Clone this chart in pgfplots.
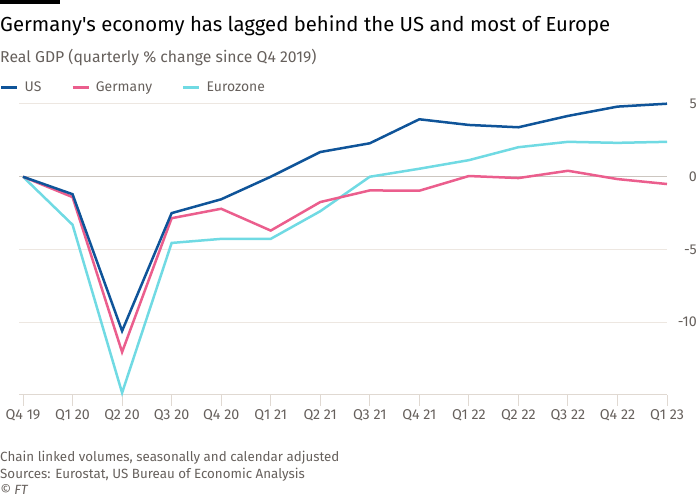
\documentclass[border=0pt]{standalone}
\usepackage{pgfplots}
\pgfplotsset{compat=1.18}
\usepackage{fontspec}
\setmainfont{Fira Sans}[Ligatures=TeXOff]
\definecolor{usblue}{HTML}{0F5499}
\definecolor{depink}{HTML}{EB5E8D}
\definecolor{ezcyan}{HTML}{70DAE3}
\definecolor{txtgray}{HTML}{66605C}
\definecolor{gridc}{HTML}{EDE7E1}
\definecolor{zeroc}{HTML}{CCC6C0}
\definecolor{axisc}{HTML}{E0D9D2}
\begin{document}
\begin{tikzpicture}[x=1bp,y=1bp]
\useasboundingbox (0,0) rectangle (700,500);
\fill[black] (0,500) rectangle (60,496);
\node[anchor=base west, inner sep=0, font=\fontsize{20.4}{24}\selectfont] at (0,468) {Germany's economy has lagged behind the US and most of Europe};
\node[anchor=base west, inner sep=0, text=txtgray, font=\fontsize{15.8}{18}\selectfont] at (0,437) {Real GDP (quarterly \% change since Q4 2019)};
\node[anchor=base west, inner sep=0, text=txtgray, font=\fontsize{13.4}{16}\selectfont] at (0,38) {Chain linked volumes, seasonally and calendar adjusted};
\node[anchor=base west, inner sep=0, text=txtgray, font=\fontsize{13.4}{16}\selectfont] at (0,21) {Sources: Eurostat, US Bureau of Economic Analysis};
\node[anchor=base west, inner sep=0, text=txtgray, font=\fontsize{13.4}{16}\selectfont\itshape] at (0,5) {© FT};
\begin{axis}[
  at={(19bp,105bp)}, anchor=south west, scale only axis,
  width=648bp, height=293.9bp,
  xmin=-0.081, xmax=13, ymin=-15, ymax=5.2,
  clip=false,
  axis x line*=bottom, axis y line*=right,
  y axis line style={draw=none},
  x axis line style={axisc, line width=1bp, -},
  xtick={0,...,13},
  xticklabels={Q4 19,Q1 20,Q2 20,Q3 20,Q4 20,Q1 21,Q2 21,Q3 21,Q4 21,Q1 22,Q2 22,Q3 22,Q4 22,Q1 23},
  xtick align=outside,
  x tick style={axisc, line width=1bp},
  major tick length=11bp,
  ytick={-10,-5,5}, yticklabels={-10,-5,5},
  y tick style={draw=none},
  extra y ticks={0}, extra y tick labels={0},
  extra y tick style={grid style={zeroc, line width=1bp}, y tick style={draw=none}},
  ymajorgrids, grid style={gridc, line width=1bp},
  ticklabel style={font=\fontsize{14.3}{16}\selectfont, text=txtgray},
  yticklabel style={anchor=east, inner sep=0, xshift=30bp},
  legend style={at={(axis description cs:-0.0293,1.0456)}, anchor=west, draw=none, fill=none,
    legend columns=-1, inner sep=0, font=\fontsize{14}{16}\selectfont, text=txtgray,
    /tikz/every odd column/.append style={column sep=4bp},
    /tikz/every even column/.append style={column sep=28bp}},
  legend image code/.code={\draw[#1, line width=2.5bp] (0bp,0bp) -- (16bp,0bp);},
]
\addlegendimage{usblue}
\addlegendentry{US}
\addlegendimage{depink}
\addlegendentry{Germany}
\addlegendimage{ezcyan}
\addlegendentry{Eurozone}
\addplot[ezcyan, line width=2.5bp, forget plot] coordinates {
(0,0) (1,-3.3) (2,-14.85) (3,-4.55) (4,-4.27) (5,-4.27) (6,-2.37) (7,0.0) (8,0.55) (9,1.14) (10,2.03) (11,2.40) (12,2.33) (13,2.40)};
\addplot[depink, line width=2.5bp, forget plot] coordinates {
(0,0) (1,-1.4) (2,-12.05) (3,-2.85) (4,-2.2) (5,-3.7) (6,-1.74) (7,-0.94) (8,-0.96) (9,0.05) (10,-0.09) (11,0.41) (12,-0.16) (13,-0.5)};
\addplot[usblue, line width=2.5bp, forget plot] coordinates {
(0,0) (1,-1.2) (2,-10.6) (3,-2.5) (4,-1.55) (5,0.0) (6,1.7) (7,2.3) (8,3.95) (9,3.56) (10,3.4) (11,4.18) (12,4.82) (13,5.02)};
\end{axis}
\end{tikzpicture}
\end{document}
